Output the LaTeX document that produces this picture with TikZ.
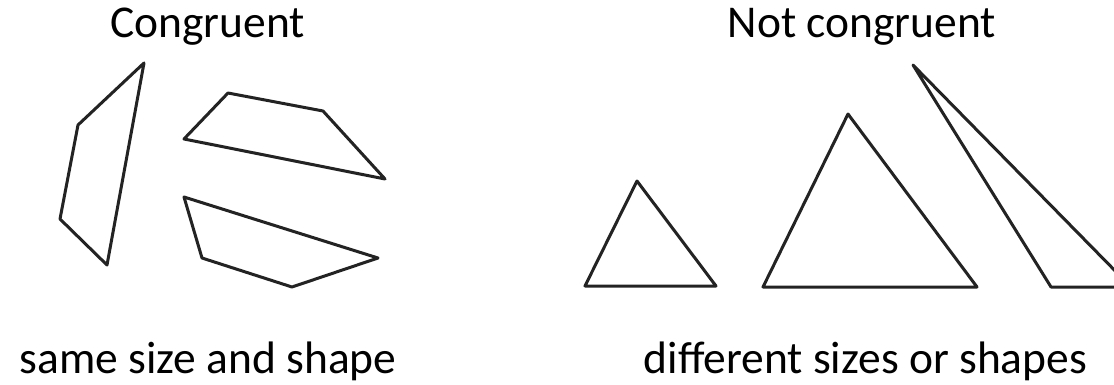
\documentclass[tikz,border=0pt]{standalone}
\usepackage{fontspec}
\setmainfont{Carlito}
\usepackage{tikz}
\usetikzlibrary{positioning,calc}

\definecolor{outlinegray}{RGB}{35,35,35}
\tikzset{
    heading/.style={anchor=base, inner sep=0pt, font=\fontsize{45.5}{50}\selectfont},
    outline/.style={draw=outlinegray, line width=3pt, line join=round}
}

\begin{document}
\begin{tikzpicture}[x=1pt, y=-1pt]
            \clip (0,0) rectangle (1114,385);
            \fill[white] (0,0) rectangle (1114,385);
            % titles
            \node[heading] (congruent) at (207.5,38) {Congruent};
            \node[heading] (notcongruent) at (862,38) {Not congruent};
            % congruent quadrilaterals
            \draw[outline] (144,63) -- (78,125) -- (60,219) -- (107,265) -- cycle;
            \draw[outline] (184,139) -- (228,93) -- (323,111) -- (385,179) -- cycle;
            \draw[outline] (184,197) -- (202,258) -- (292,287) -- (378,258) -- cycle;
            % triangles that differ
            \draw[outline] (637,181) -- (585,286) -- (716,286) -- cycle;
            \draw[outline] (848,114) -- (763,287) -- (977,287) -- cycle;
            \draw[outline] (913,65) -- (1051,287) -- (1131,287) -- cycle;
            % captions
            \node[heading] (samesize) at (208,373) {same size and shape};
            \node[heading] (differentsize) at (865.5,373) {different sizes or shapes};
        \end{tikzpicture}
\end{document}
